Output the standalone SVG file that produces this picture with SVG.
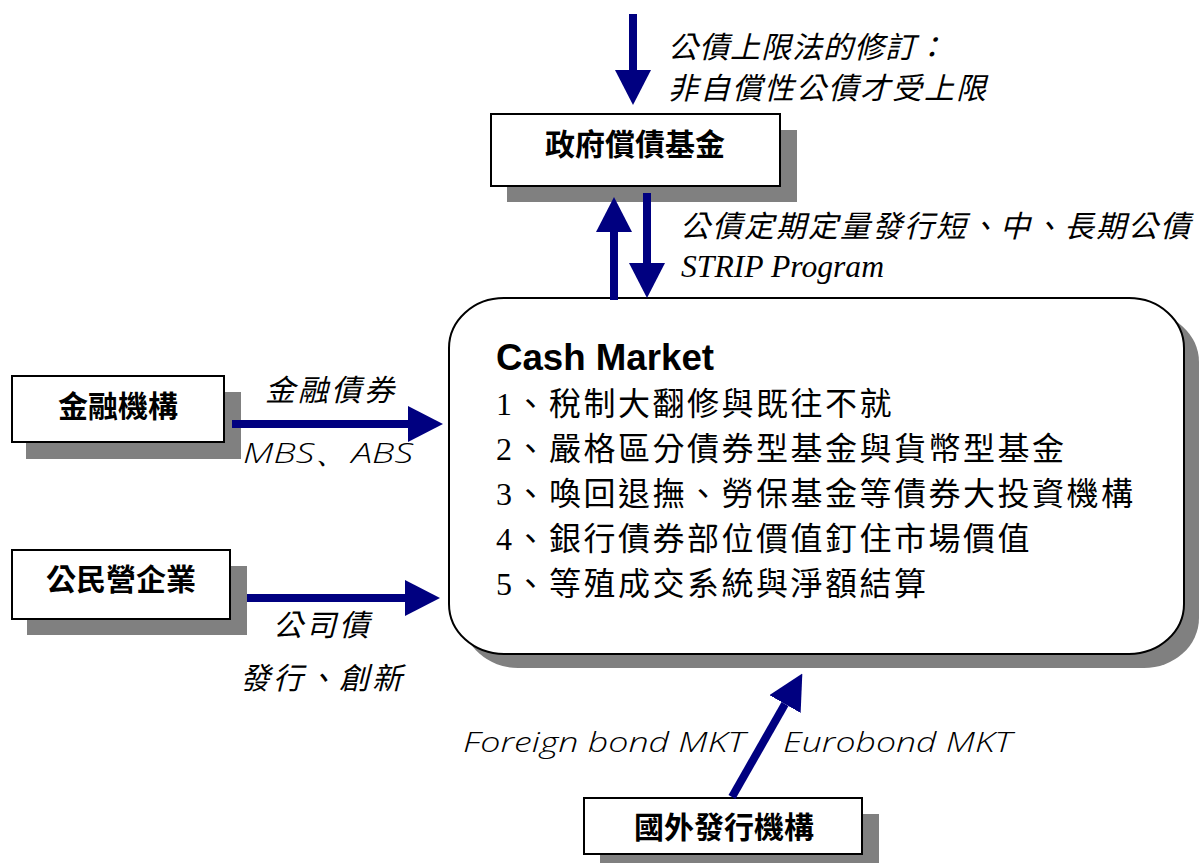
<svg xmlns="http://www.w3.org/2000/svg" width="1200" height="863" viewBox="0 0 1200 863">
<style>
.box{fill:#fff;stroke:#000;stroke-width:2}
.shadow{fill:#808080}
.lbl{font-family:"Liberation Sans","Noto Sans CJK TC",sans-serif;font-weight:bold;font-size:30px;text-anchor:middle;dominant-baseline:central;fill:#000}
.it{font-family:"Liberation Sans","Noto Sans CJK TC",sans-serif;font-style:italic;font-size:30px;fill:#000;dominant-baseline:central}
.lat{font-family:"Open Sans","Liberation Sans",sans-serif;font-weight:300;font-style:italic;font-size:28px;fill:#000}
.list{font-family:"Liberation Serif","Noto Sans CJK TC",serif;font-size:32px;letter-spacing:2.5px;fill:#000}
.conn{stroke:#000080;stroke-width:8;fill:none;marker-end:url(#ah)}
</style>
<defs>
<marker id="ah" viewBox="0 0 35 36" markerWidth="35" markerHeight="36" refX="0" refY="18" orient="auto" markerUnits="userSpaceOnUse">
<path d="M0,0 L35,18 L0,36 Z" fill="#000080"/>
</marker>
</defs>
<rect width="1200" height="863" fill="#fff"/>

<g id="gov-fund">
<rect class="shadow" x="507" y="130" width="290" height="72"/>
<rect class="box" x="491" y="114" width="289" height="72"/>
<text class="lbl" x="635" y="144">政府償債基金</text>
</g>

<g id="cash-market">
<rect class="shadow" x="463" y="312" width="736" height="356" rx="55" ry="50"/>
<rect class="box" x="449" y="298" width="735" height="356" rx="55" ry="50"/>
<text x="496" y="370" font-family="Liberation Sans, Arial, sans-serif" font-weight="bold" font-size="37" textLength="218" lengthAdjust="spacingAndGlyphs">Cash Market</text>
<text class="list" x="496" y="415">1、稅制大翻修與既往不就</text>
<text class="list" x="496" y="460">2、嚴格區分債券型基金與貨幣型基金</text>
<text class="list" x="496" y="505">3、喚回退撫、勞保基金等債券大投資機構</text>
<text class="list" x="496" y="550">4、銀行債券部位價值釘住市場價值</text>
<text class="list" x="496" y="595">5、等殖成交系統與淨額結算</text>
</g>

<g id="financial-inst">
<rect class="shadow" x="26" y="392" width="215" height="67"/>
<rect class="box" x="12" y="376" width="212" height="66"/>
<text class="lbl" x="118" y="406">金融機構</text>
</g>

<g id="enterprise">
<rect class="shadow" x="27" y="566" width="220" height="69"/>
<rect class="box" x="12" y="550" width="218" height="69"/>
<text class="lbl" x="121" y="579">公民營企業</text>
</g>

<g id="foreign-issuer">
<rect class="shadow" x="600" y="814" width="279" height="49"/>
<rect class="box" x="584" y="798" width="278" height="56"/>
<text class="lbl" x="724" y="827">國外發行機構</text>
</g>

<g id="labels">
<text class="it" x="668" y="47" letter-spacing="1">公債上限法的修訂：</text>
<text class="it" x="668" y="88" letter-spacing="2">非自償性公債才受上限</text>
<text class="it" x="680" y="226" letter-spacing="2">公債定期定量發行短、中、長期公債</text>
<text x="681" y="277" font-family="Liberation Serif, serif" font-style="italic" font-size="31" textLength="203" lengthAdjust="spacingAndGlyphs">STRIP Program</text>
<text class="it" x="265" y="390" letter-spacing="3">金融債券</text>
<text class="lat" x="243" y="463" textLength="170" lengthAdjust="spacingAndGlyphs">MBS、ABS</text>
<text class="it" x="273" y="625" letter-spacing="3">公司債</text>
<text class="it" x="240" y="678" letter-spacing="3">發行、創新</text>
<text class="lat" x="463" y="752" textLength="282" lengthAdjust="spacingAndGlyphs">Foreign bond MKT</text>
<text class="lat" x="783" y="752" textLength="229" lengthAdjust="spacingAndGlyphs">Eurobond MKT</text>
</g>

<g id="connectors">
<line class="conn" x1="633" y1="14" x2="633" y2="70"/>
<line class="conn" x1="614" y1="300" x2="614" y2="232"/>
<line class="conn" x1="647" y1="193" x2="647" y2="263"/>
<line class="conn" x1="232" y1="424" x2="408" y2="424"/>
<line class="conn" x1="247" y1="598" x2="405" y2="598"/>
<line class="conn" x1="732" y1="797" x2="785" y2="704"/>
</g>
</svg>
